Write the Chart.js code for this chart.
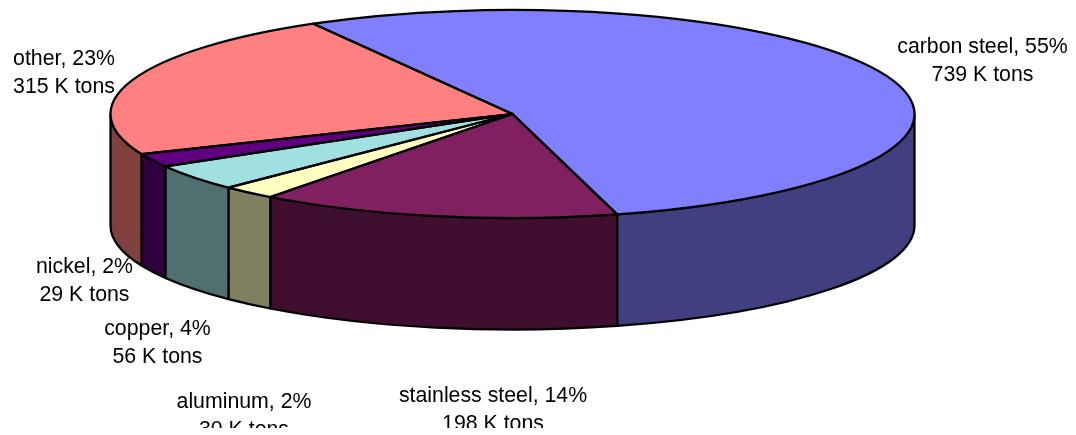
<!DOCTYPE html>
<html>
<head>
<meta charset="utf-8">
<title>Steel and metals</title>
<style>
  html, body { margin: 0; padding: 0; background: #fff; overflow: hidden; }
  #wrap { position: relative; width: 1076px; height: 435px; }
</style>
</head>
<body>
<div id="wrap"><canvas id="pie"></canvas></div>
<script src="https://cdn.jsdelivr.net/npm/chart.js"></script>
<script>
const categories = ['carbon steel', 'stainless steel', 'aluminum', 'copper', 'nickel', 'other'];
const ktons = [739, 198, 30, 56, 29, 315];
const percents = [55, 14, 2, 4, 2, 23];
const topColors = ['#8080ff', '#802060', '#ffffc0', '#a0e0e0', '#600080', '#ff8080'];
const sideColors = ['#404080', '#400e2e', '#808060', '#507070', '#300040', '#804040'];

// where each two line label is centred: [x, first baseline]
const labelSpots = [[982.5, 53], [493, 402], [244, 408], [157.5, 335], [84.5, 273], [64, 65]];

const squash = 104 / 402; // height of the ellipse relative to its width
const depth = 111.5;      // height of the wall under the disc
const edge = 2.25;        // outline width
const labelFloor = 428;   // labels are cut off below this line

function wallPath(ctx, arc, from, to) {
  const ry = arc.outerRadius * squash;
  ctx.beginPath();
  ctx.ellipse(arc.x, arc.y, arc.outerRadius, ry, 0, from, to);
  ctx.ellipse(arc.x, arc.y + depth, arc.outerRadius, ry, 0, to, from, true);
  ctx.closePath();
}

// arcs are drawn flat, so the disc is squeezed and the wall added around them
const tilt = {
  id: 'tilt',
  beforeDatasetsDraw(chart) {
    const ctx = chart.ctx;
    const arcs = chart.getDatasetMeta(0).data;
    ctx.save();
    ctx.lineWidth = edge;
    ctx.strokeStyle = '#000';
    ctx.lineJoin = 'round';
    arcs.forEach((arc, i) => {
      // only the part facing the viewer, between 0 and 180 degrees
      for (const turn of [-2 * Math.PI, 0, 2 * Math.PI]) {
        const from = Math.max(arc.startAngle + turn, 0);
        const to = Math.min(arc.endAngle + turn, Math.PI);
        if (to > from) {
          wallPath(ctx, arc, from, to);
          ctx.fillStyle = sideColors[i];
          ctx.fill();
          ctx.stroke();
        }
      }
    });
    ctx.restore();

    const c = arcs[0];
    ctx.save();
    ctx.translate(c.x, c.y);
    ctx.scale(1, squash);
    ctx.translate(-c.x, -c.y);
  },
  afterDatasetsDraw(chart) {
    const ctx = chart.ctx;
    ctx.restore();
    // outlines are stroked unscaled so the line keeps an even width
    ctx.save();
    ctx.lineWidth = edge;
    ctx.strokeStyle = '#000';
    ctx.lineJoin = 'round';
    chart.getDatasetMeta(0).data.forEach(arc => {
      ctx.beginPath();
      ctx.moveTo(arc.x, arc.y);
      ctx.ellipse(arc.x, arc.y, arc.outerRadius, arc.outerRadius * squash, 0, arc.startAngle, arc.endAngle);
      ctx.closePath();
      ctx.stroke();
    });
    ctx.restore();
  }
};

const sliceLabels = {
  id: 'sliceLabels',
  afterDraw(chart) {
    const ctx = chart.ctx;
    ctx.save();
    ctx.beginPath();
    ctx.rect(0, 0, chart.width, labelFloor);
    ctx.clip();
    ctx.font = '21.3px "Liberation Sans", Arial, sans-serif';
    ctx.fillStyle = '#000';
    ctx.textAlign = 'center';
    ctx.textBaseline = 'alphabetic';
    categories.forEach((name, i) => {
      const [x, y] = labelSpots[i];
      ctx.fillText(name + ', ' + percents[i] + '%', x, y);
      ctx.fillText(ktons[i] + ' K tons', x, y + 28);
    });
    ctx.restore();
  }
};

new Chart(document.getElementById('pie'), {
  type: 'pie',
  data: {
    labels: categories,
    datasets: [{
      data: ktons,
      backgroundColor: topColors,
      borderWidth: 0
    }]
  },
  options: {
    responsive: true,
    maintainAspectRatio: false,
    animation: false,
    rotation: -29.7,
    radius: 402,
    // keeps the centre of the disc at 512.5, 114
    layout: { padding: { left: 0, top: 0, right: 51, bottom: 207 } },
    plugins: { legend: { display: false }, tooltip: { enabled: false } }
  },
  plugins: [tilt, sliceLabels]
});
</script>
</body>
</html>
